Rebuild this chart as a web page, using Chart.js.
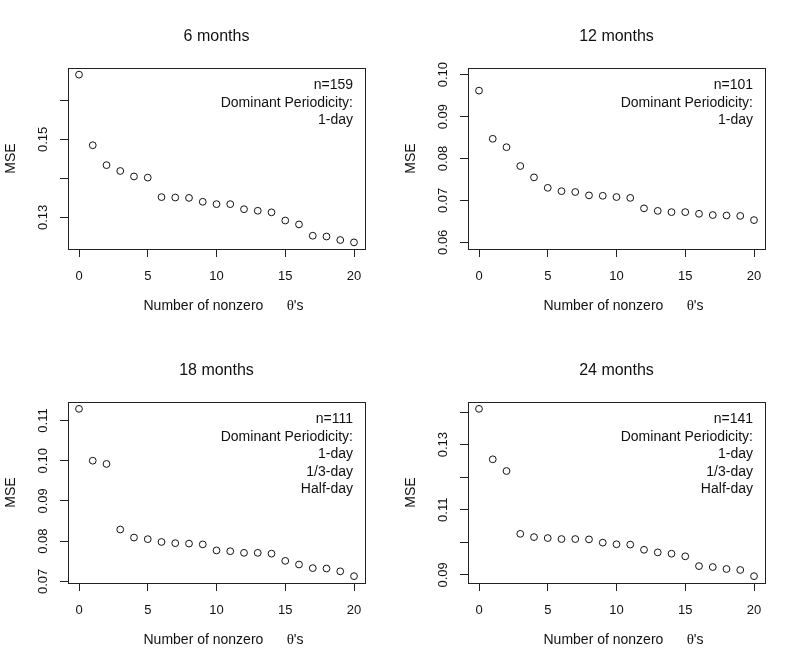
<!DOCTYPE html>
<html>
<head>
<meta charset="utf-8">
<script src="https://cdn.jsdelivr.net/npm/chart.js@4.4.1/dist/chart.umd.min.js"></script>
<style>
  body { margin: 0; background: #fff; }
  #wrap { position: relative; width: 800px; height: 667px; }
  canvas { position: absolute; }
</style>
</head>
<body>
<div id="wrap">
  <canvas id="m6" width="400" height="333" style="left:0;top:0"></canvas>
  <canvas id="m12" width="400" height="333" style="left:400px;top:0"></canvas>
  <canvas id="m18" width="400" height="333" style="left:0;top:334px"></canvas>
  <canvas id="m24" width="400" height="333" style="left:400px;top:334px"></canvas>
</div>
<script>
// number of nonzero thetas (x) and MSE for each window length
const nonzeroThetas = [0, 1, 2, 3, 4, 5, 6, 7, 8, 9, 10, 11, 12, 13, 14, 15, 16, 17, 18, 19, 20];

const mse6 = [0.1666, 0.1485, 0.1434, 0.1419, 0.1405, 0.1402, 0.1352, 0.1351, 0.1350, 0.1340, 0.1334,
  0.1334, 0.1321, 0.1317, 0.1313, 0.1292, 0.1282, 0.1253, 0.1251, 0.1242, 0.1236];
const mse12 = [0.0962, 0.0847, 0.0827, 0.0782, 0.0755, 0.0730, 0.0722, 0.0720, 0.0712, 0.0711, 0.0708,
  0.0706, 0.0681, 0.0675, 0.0672, 0.0672, 0.0668, 0.0665, 0.0664, 0.0663, 0.0653];
const mse18 = [0.1129, 0.1000, 0.0992, 0.0829, 0.0809, 0.0805, 0.0798, 0.0795, 0.0794, 0.0792, 0.0777,
  0.0775, 0.0771, 0.0771, 0.0769, 0.0751, 0.0742, 0.0733, 0.0732, 0.0725, 0.0713];
const mse24 = [0.1410, 0.1255, 0.1219, 0.1026, 0.1016, 0.1013, 0.1010, 0.1010, 0.1009, 0.0999, 0.0994,
  0.0993, 0.0977, 0.0969, 0.0965, 0.0957, 0.0927, 0.0924, 0.0918, 0.0915, 0.0896];

const xTicks = [0, 5, 10, 15, 20];

const yTicks6 = [0.13, 0.14, 0.15, 0.16];
const yLabels6 = ['0.13', '', '0.15', ''];
const yTicks12 = [0.06, 0.07, 0.08, 0.09, 0.10];
const yLabels12 = ['0.06', '0.07', '0.08', '0.09', '0.10'];
const yTicks18 = [0.07, 0.08, 0.09, 0.10, 0.11];
const yLabels18 = ['0.07', '0.08', '0.09', '0.10', '0.11'];
const yTicks24 = [0.09, 0.10, 0.11, 0.12, 0.13, 0.14];
const yLabels24 = ['0.09', '', '0.11', '', '0.13', ''];

const yRange6 = [0.1219, 0.1683];
const yRange12 = [0.0584, 0.1016];
const yRange18 = [0.0696, 0.1146];
const yRange24 = [0.0875, 0.1431];

const notes6 = ['n=159', 'Dominant Periodicity:', '1-day'];
const notes12 = ['n=101', 'Dominant Periodicity:', '1-day'];
const notes18 = ['n=111', 'Dominant Periodicity:', '1-day', '1/3-day', 'Half-day'];
const notes24 = ['n=141', 'Dominant Periodicity:', '1-day', '1/3-day', 'Half-day'];

const TEXT = '#111';
const LINE = '#222';
const SANS = "'Liberation Sans', Arial, sans-serif";
const SERIF = "'Liberation Serif', 'DejaVu Serif', serif";

Chart.defaults.font.family = SANS;
Chart.defaults.color = TEXT;

// box, title, axis titles and the text block in the corner
const panelFrame = {
  id: 'panelFrame',
  afterDraw(chart, args, opts) {
    const { ctx, chartArea: a } = chart;
    const l = Math.round(a.left), t = Math.round(a.top);
    const r = Math.round(a.right), b = Math.round(a.bottom);
    const cx = (l + r) / 2;
    ctx.save();
    ctx.strokeStyle = LINE;
    ctx.lineWidth = 1;
    ctx.strokeRect(l + 0.5, t + 0.5, r - l, b - t);

    ctx.fillStyle = TEXT;
    ctx.textBaseline = 'middle';
    ctx.textAlign = 'center';
    ctx.font = '16px ' + SANS;
    ctx.fillText(opts.title, cx, t - 31);

    // y title
    ctx.save();
    ctx.translate(11, (t + b) / 2);
    ctx.rotate(-Math.PI / 2);
    ctx.font = '14px ' + SANS;
    ctx.fillText('MSE', 0, 0);
    ctx.restore();

    // x title, theta in a serif face, starts a bit left of centre like R's expression
    const parts = [
      { s: 'Number of nonzero      ', f: '14px ' + SANS },
      { s: '\u03b8', f: '15px ' + SERIF },
      { s: "'s", f: '14px ' + SANS },
    ];
    let x = cx - 73;
    ctx.textAlign = 'left';
    parts.forEach((p) => {
      ctx.font = p.f;
      ctx.fillText(p.s, x, b + 57);
      x += ctx.measureText(p.s).width;
    });

    ctx.textAlign = 'right';
    ctx.font = '14px ' + SANS;
    opts.notes.forEach((line, i) => {
      ctx.fillText(line, r - 12, t + 17.5 + i * 17.5);
    });
    ctx.restore();
  },
};

function makePanel(id, title, values, yRange, yTicks, yLabels, notes) {
  return new Chart(document.getElementById(id), {
    type: 'scatter',
    data: {
      datasets: [
        {
          data: nonzeroThetas.map((k, i) => ({ x: k, y: values[i] })),
          pointStyle: 'circle',
          pointRadius: 3.4,
          pointBorderWidth: 1,
          pointBorderColor: TEXT,
          pointBackgroundColor: 'rgba(0,0,0,0)',
        },
      ],
    },
    options: {
      responsive: false,
      animation: false,
      events: [],
      layout: { padding: { top: 68, left: 0, right: 35, bottom: 24 } },
      plugins: {
        legend: { display: false },
        tooltip: { enabled: false },
        panelFrame: { title: title, notes: notes },
      },
      scales: {
        x: {
          type: 'linear',
          min: -0.8,
          max: 20.8,
          afterBuildTicks: (s) => { s.ticks = xTicks.map((v) => ({ value: v })); },
          afterFit: (s) => { s.height = 60; },
          border: { display: false },
          grid: { display: true, drawOnChartArea: false, drawTicks: true, tickLength: 8, color: LINE },
          ticks: { color: TEXT, font: { size: 13 }, padding: 12, maxRotation: 0, autoSkip: false },
        },
        y: {
          type: 'linear',
          min: yRange[0],
          max: yRange[1],
          afterBuildTicks: (s) => { s.ticks = yTicks.map((v) => ({ value: v })); },
          afterFit: (s) => { s.width = 68; },
          border: { display: false },
          grid: { display: true, drawOnChartArea: false, drawTicks: true, tickLength: 8, color: LINE },
          ticks: {
            color: TEXT,
            font: { size: 13 },
            padding: 4,
            minRotation: 90,
            maxRotation: 90,
            crossAlign: 'center',
            autoSkip: false,
            callback: (v, i) => yLabels[i],
          },
        },
      },
    },
    plugins: [panelFrame],
  });
}

makePanel('m6', '6 months', mse6, yRange6, yTicks6, yLabels6, notes6);
makePanel('m12', '12 months', mse12, yRange12, yTicks12, yLabels12, notes12);
makePanel('m18', '18 months', mse18, yRange18, yTicks18, yLabels18, notes18);
makePanel('m24', '24 months', mse24, yRange24, yTicks24, yLabels24, notes24);
</script>
</body>
</html>
